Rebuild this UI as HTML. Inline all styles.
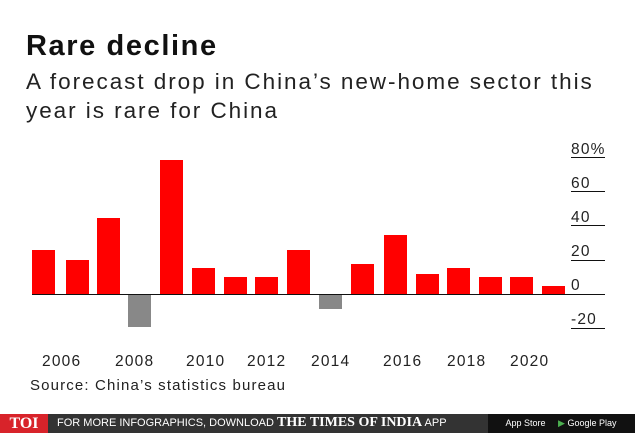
<!DOCTYPE html>
<html><head><meta charset="utf-8"><style>
body{margin:0;width:635px;height:433px;background:#fff;position:relative;overflow:hidden;font-family:"Liberation Sans",sans-serif}
.t{position:absolute;left:26px;top:30px;font-size:29px;font-weight:bold;color:#111;letter-spacing:1.6px}
.s{position:absolute;left:26px;top:67px;font-size:22.5px;color:#222;line-height:29px;letter-spacing:1.95px;white-space:nowrap}
.src{position:absolute;left:30px;top:377px;font-size:15px;color:#222;letter-spacing:1.15px}
.foot{position:absolute;left:0;top:414px;width:635px;height:19px;background:#333}
</style></head><body>
<div class="t">Rare decline</div>
<div class="s">A forecast drop in China’s new-home sector this<br>year is rare for China</div>
<svg width="635" height="433" style="position:absolute;left:0;top:0">
<g fill="#f00">
<rect x="32" y="250" width="23" height="44"/>
<rect x="66" y="260" width="23" height="34"/>
<rect x="97" y="218" width="23" height="76"/>
<rect x="160" y="160" width="23" height="134"/>
<rect x="192" y="268" width="23" height="26"/>
<rect x="224" y="277" width="23" height="17"/>
<rect x="255" y="277" width="23" height="17"/>
<rect x="287" y="250" width="23" height="44"/>
<rect x="351" y="264" width="23" height="30"/>
<rect x="384" y="235" width="23" height="59"/>
<rect x="416" y="274" width="23" height="20"/>
<rect x="447" y="268" width="23" height="26"/>
<rect x="479" y="277" width="23" height="17"/>
<rect x="510" y="277" width="23" height="17"/>
<rect x="542" y="286" width="23" height="8"/>
</g>
<g fill="#888">
<rect x="128" y="294" width="23" height="33"/>
<rect x="319" y="294" width="23" height="15"/>
</g>
<g stroke="#111" stroke-width="1">
<line x1="32" y1="294.5" x2="605" y2="294.5"/>
<line x1="571" y1="157.5" x2="605" y2="157.5"/>
<line x1="571" y1="191.5" x2="605" y2="191.5"/>
<line x1="571" y1="225.5" x2="605" y2="225.5"/>
<line x1="571" y1="260.5" x2="605" y2="260.5"/>
<line x1="571" y1="328.5" x2="605" y2="328.5"/>
</g>
<g font-size="15.5" fill="#222" font-family="Liberation Sans,sans-serif" letter-spacing="1.2">
<text x="571" y="154">80%</text>
<text x="571" y="188">60</text>
<text x="571" y="222">40</text>
<text x="571" y="256">20</text>
<text x="571" y="290">0</text>
<text x="571" y="324">-20</text>
<text x="42" y="366">2006</text>
<text x="115" y="366">2008</text>
<text x="186" y="366">2010</text>
<text x="247" y="366">2012</text>
<text x="311" y="366">2014</text>
<text x="383" y="366">2016</text>
<text x="447" y="366">2018</text>
<text x="510" y="366">2020</text>
</g>
</svg>
<div class="src">Source: China’s statistics bureau</div>
<div class="foot">
<div style="position:absolute;left:0;top:0;width:48px;height:19px;background:#d8232a;color:#fff;font:bold 16px 'Liberation Serif',serif;text-align:center;line-height:19px">TOI</div>
<div style="position:absolute;left:57px;top:0;line-height:19px;color:#fff;font-size:11px;white-space:nowrap">FOR MORE INFOGRAPHICS, DOWNLOAD <span style="font:bold 14px 'Liberation Serif',serif">THE TIMES OF INDIA</span> APP</div>
<div style="position:absolute;left:488px;top:0;width:147px;height:19px;background:#111;color:#fff;font-size:9px;line-height:19px;white-space:nowrap">&nbsp;&nbsp;&nbsp;&nbsp;&nbsp;&nbsp;&nbsp;App Store &nbsp;&nbsp;&nbsp;&nbsp;<span style="color:#4caf50">▶</span> Google Play</div>
</div>
</body></html>
